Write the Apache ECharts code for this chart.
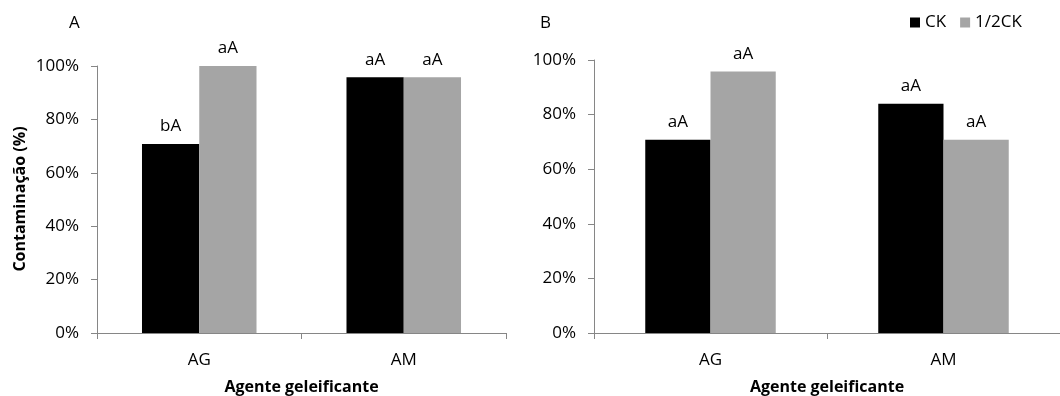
<!DOCTYPE html>
<html><head><meta charset="utf-8">
<script src="https://cdn.jsdelivr.net/npm/echarts@6/dist/echarts.min.js"></script>
<style>html,body{margin:0;padding:0;background:#fff}#c{width:1060px;height:396px}</style>
</head><body><div id="c"></div>
<script>
const categories = ['AG', 'AM'];
const seriesNames = ['CK', '1/2CK'];
const panelA_CK = [70.8, 95.8];
const panelA_halfCK = [100, 95.8];
const panelB_CK = [70.8, 84.0];
const panelB_halfCK = [95.8, 70.8];
const lettersA_CK = ['bA', 'aA'];
const lettersA_halfCK = ['aA', 'aA'];
const lettersB_CK = ['aA', 'aA'];
const lettersB_halfCK = ['aA', 'aA'];
const yTicks = [0, 20, 40, 60, 80, 100];
const yTitle = 'Contaminação (%)';
const xTitle = 'Agente geleificante';

const FONT = '"Open Sans", sans-serif';
const TXT = '#000';
const AX = '#868686';

function xAx(gi) {
  return {
    type: 'category', gridIndex: gi, data: categories,
    axisLine: {lineStyle: {color: AX, width: 1}},
    axisTick: {show: true, length: 6, lineStyle: {color: AX}},
    axisLabel: {color: TXT, fontFamily: FONT, fontSize: 17, margin: 19},
    name: xTitle, nameLocation: 'middle', nameGap: 46,
    nameTextStyle: {color: TXT, fontFamily: FONT, fontSize: 16, fontWeight: 'bold'}
  };
}
function yAx(gi) {
  return {
    type: 'value', gridIndex: gi, min: yTicks[0], max: yTicks[yTicks.length - 1], interval: 20,
    axisLine: {show: true, lineStyle: {color: AX, width: 1}},
    axisTick: {show: true, length: 6, lineStyle: {color: AX}},
    splitLine: {show: false},
    axisLabel: {color: TXT, fontFamily: FONT, fontSize: 17, margin: 18, formatter: '{value}%'}
  };
}
function bar(name, gi, data, letters, color) {
  return {
    name: name, type: 'bar', xAxisIndex: gi, yAxisIndex: gi,
    data: data, barGap: '0%', barCategoryGap: '44%',
    itemStyle: {color: color},
    label: {show: true, position: 'top', distance: 9, color: TXT, fontFamily: FONT, fontSize: 17,
      formatter: p => letters[p.dataIndex]}
  };
}
const chart = echarts.init(document.getElementById('c'), null, {renderer: 'canvas'});
chart.setOption({
  animation: false,
  backgroundColor: '#fff',
  grid: [
    {left: 97, right: 554, top: 66, bottom: 63, containLabel: false, outerBoundsMode: 'none'},
    {left: 594, right: 0, top: 60, bottom: 63, containLabel: false, outerBoundsMode: 'none'}
  ],
  xAxis: [xAx(0), xAx(1)],
  yAxis: [yAx(0), yAx(1)],
  legend: {
    data: seriesNames, left: 910, top: 14, itemWidth: 10, itemHeight: 10, itemGap: 14,
    icon: 'rect', textStyle: {color: TXT, fontFamily: FONT, fontSize: 17}, padding: 0
  },
  graphic: [
    {type: 'text', left: 69, top: 15, style: {text: 'A', fill: TXT, font: '17px ' + FONT}},
    {type: 'text', left: 540, top: 15, style: {text: 'B', fill: TXT, font: '17px ' + FONT}},
    {type: 'text', x: 20, y: 199, rotation: Math.PI / 2,
      style: {text: yTitle, fill: TXT, font: 'bold 16px ' + FONT, textAlign: 'center', textVerticalAlign: 'middle'}}
  ],
  series: [
    bar(seriesNames[0], 0, panelA_CK, lettersA_CK, '#000000'),
    bar(seriesNames[1], 0, panelA_halfCK, lettersA_halfCK, '#a5a5a5'),
    bar(seriesNames[0], 1, panelB_CK, lettersB_CK, '#000000'),
    bar(seriesNames[1], 1, panelB_halfCK, lettersB_halfCK, '#a5a5a5')
  ]
});
</script></body></html>
